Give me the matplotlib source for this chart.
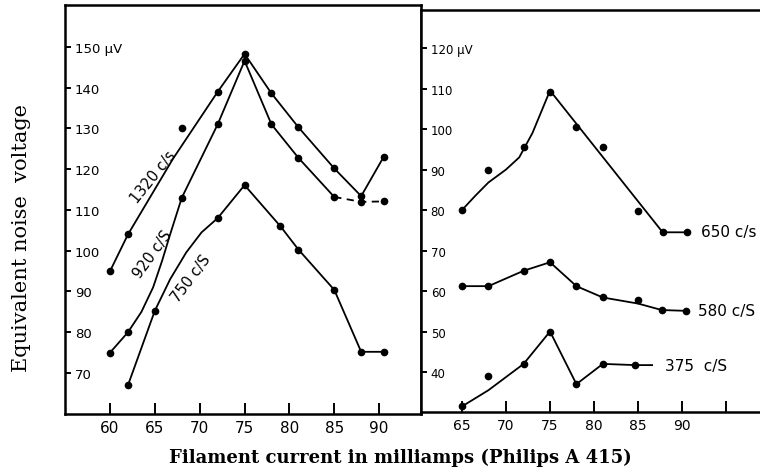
import matplotlib
matplotlib.use("Agg")
import matplotlib.pyplot as plt

# ---------------- data: left panel ----------------
x1320 = [60, 62, 68, 72, 75, 78, 81, 85, 88, 90.5]
y1320 = [95, 104, 130, 139, 148.3, 138.6, 130.3, 120.2, 113.4, 123]
cx1320 = [60, 62, 67, 72, 75, 78, 81, 85, 88, 90.5]
cy1320 = [95, 104, 122.5, 139, 148.3, 138.6, 130.3, 120.2, 113.4, 123]

x920 = [60, 62, 68, 72, 75, 78, 81, 85, 88, 90.5]
y920 = [75, 80, 113, 131, 146.6, 131, 122.8, 113.2, 112, 112.1]
cx920_solid = [60, 62, 63.5, 64.8, 65.8, 66.7, 68, 72, 75, 78, 81, 85]
cy920_solid = [75, 80, 85, 91, 97.5, 104, 113, 131, 146.6, 131, 122.8, 113.2]
cx920_dash = [85, 88, 90.5]
cy920_dash = [113.2, 112, 112.1]

x750 = [62, 65, 72, 75, 79, 81, 85, 88, 90.6]
y750 = [67, 85.3, 108, 116.1, 106, 100.3, 90.4, 75.2, 75.2]
cx750 = [62, 65, 66.7, 68.5, 70.2, 72, 75, 79, 81, 85, 88, 90.6]
cy750 = [67, 85.3, 93, 99.6, 104.5, 108, 116.1, 106, 100.3, 90.4, 75.2, 75.2]

# ---------------- data: right panel ----------------
x650 = [65, 68, 72, 75, 78, 81, 85, 87.8, 90.6]
y650 = [80, 89.9, 95.6, 109.2, 100.6, 95.6, 79.8, 74.5, 74.5]
cx650 = [65, 66.5, 68, 70, 71.5, 73, 75, 87.8, 90.6]
cy650 = [80, 83.5, 86.8, 90, 93, 99, 109.5, 74.5, 74.5]

x580 = [65, 68, 72, 75, 78, 81, 85, 87.7, 90.5]
y580 = [61.2, 61.2, 65, 67.1, 61.2, 58.4, 57.8, 55.3, 55.1]
cx580 = [65, 68, 72, 75, 78, 81, 85, 87.7, 90.5]
cy580 = [61.2, 61.2, 65, 67.1, 61.2, 58.4, 56.9, 55.3, 55.1]

x375 = [65, 68, 72, 75, 78, 81, 84.7]
y375 = [31.5, 38.9, 42, 50, 37, 42, 41.7]
cx375 = [65, 68, 72, 75, 78, 81, 84.7, 86.6]
cy375 = [31.5, 35.5, 42, 50, 37, 42, 41.7, 41.7]

left_xticks = [60, 65, 70, 75, 80, 85, 90]
left_yticks = [70, 80, 90, 100, 110, 120, 130, 140, 150]
left_ylabels = ['70', '80', '90', '100', '110', '120', '130', '140', '150 μV']
right_xticks = [65, 70, 75, 80, 85, 90, 95]
right_xlabels = ['65', '70', '75', '80', '85', '90', '']
right_yticks = [40, 50, 60, 70, 80, 90, 100, 110, 120]
right_ylabels = ['40', '50', '60', '70', '80', '90', '100', '110', '120 μV']

W, H = 760, 477
fig = plt.figure(figsize=(W / 100, H / 100), dpi=100)

def frac(l, r, t, b):
    return [l / W, 1 - b / H, (r - l) / W, (b - t) / H]

axL = fig.add_axes(frac(65, 421, 6, 415))
axR = fig.add_axes(frac(421, 760, 11, 413))

axL.set_xlim(54.98, 94.67)
axL.set_ylim(59.94, 160.3)
axR.set_xlim(60.34, 98.86)
axR.set_ylim(30.12, 129.4)

lw = 1.3
ms = 4.5
tickfont = 'DejaVu Sans'

for ax in (axL, axR):
    for s in ax.spines.values():
        s.set_linewidth(1.8)
    ax.tick_params(axis='y', direction='in', length=4, width=1.4, pad=-7)
    ax.tick_params(axis='x', direction='in', length=8, width=1.4, pad=4)

axR.spines['right'].set_visible(False)

# left panel
axL.plot(cx1320, cy1320, color='black', lw=lw)
axL.plot(x1320, y1320, 'o', color='black', ms=ms)
axL.plot(cx920_solid, cy920_solid, color='black', lw=lw)
axL.plot(cx920_dash, cy920_dash, color='black', lw=lw, ls=(0, (4, 3)))
axL.plot(x920, y920, 'o', color='black', ms=ms)
axL.plot(cx750, cy750, color='black', lw=lw)
axL.plot(x750, y750, 'o', color='black', ms=ms)

axL.set_xticks(left_xticks)
axL.set_xticklabels([str(v) for v in left_xticks], fontsize=11, family=tickfont)
axL.set_yticks(left_yticks)
axL.set_yticklabels(left_ylabels, fontsize=9.5, family=tickfont, ha='left')

lab_kw = dict(fontsize=10.5, family='DejaVu Sans', ha='center', va='center',
              rotation_mode='anchor')
axL.text(64.8, 118.3, '1320 c/s', rotation=51, **lab_kw)
axL.text(64.7, 99.4, '920 c/S', rotation=54, **lab_kw)
axL.text(69.0, 93.3, '750 c/S', rotation=53, **lab_kw)

# right panel
axR.plot(cx650, cy650, color='black', lw=lw)
axR.plot(x650, y650, 'o', color='black', ms=ms)
axR.plot(cx580, cy580, color='black', lw=lw)
axR.plot(x580, y580, 'o', color='black', ms=ms)
axR.plot(cx375, cy375, color='black', lw=lw)
axR.plot(x375, y375, 'o', color='black', ms=ms)

axR.set_xticks(right_xticks)
axR.set_xticklabels(right_xlabels, fontsize=10, family=tickfont)
axR.set_yticks(right_yticks)
axR.set_yticklabels(right_ylabels, fontsize=8.5, family=tickfont, ha='left')

rkw = dict(fontsize=11, family='DejaVu Sans', ha='left', va='center', clip_on=False)
axR.text(92.2, 74.6, '650 c/s', **rkw)
axR.text(91.85, 55.3, '580 c/S', **rkw)
axR.text(88.1, 41.7, '375  c/S', **rkw)

fig.text(400 / W, 1 - 458 / H, 'Filament current in milliamps (Philips A 415)',
         ha='center', va='center', fontsize=13, family='DejaVu Serif',
         fontweight='bold')
fig.text(22 / W, 1 - 238 / H, 'Equivalent noise  voltage', rotation=90,
         ha='center', va='center', fontsize=15, family='DejaVu Serif')

fig.savefig('out.png', dpi=100)
